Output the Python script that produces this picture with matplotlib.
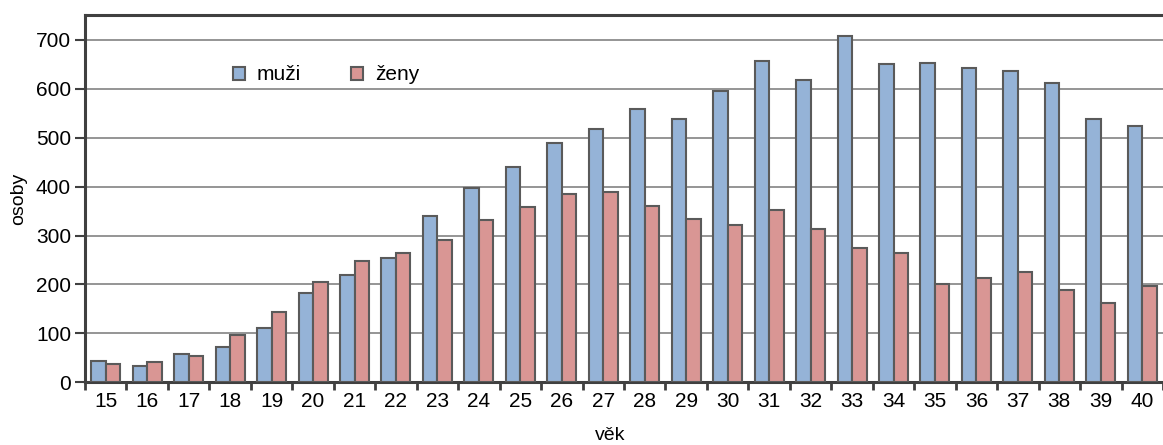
import matplotlib
matplotlib.use("Agg")
import matplotlib.pyplot as plt
import numpy as np
from matplotlib.patches import Patch

ages = [str(a) for a in range(15, 41)]
muzi = [43, 33, 57, 72, 110, 182, 220, 254, 340, 398, 439, 489, 517, 559, 539, 596,
        657, 617, 708, 650, 653, 642, 637, 611, 539, 523]
zeny = [38, 41, 53, 96, 144, 204, 248, 265, 290, 331, 359, 384, 389, 361, 333, 321,
        352, 313, 274, 264, 201, 213, 225, 188, 162, 197]
yticks = [0, 100, 200, 300, 400, 500, 600, 700]

plt.rcParams['font.family'] = ['Liberation Sans', 'DejaVu Sans']

W, H = 1163, 445
fig = plt.figure(figsize=(W / 100, H / 100), dpi=100)
ax = fig.add_axes([85 / W, 1 - 382.3 / H, (W - 85) / W, (382.3 - 15.3) / H])

blue = '#95B3D7'
red = '#D99694'
edge = '#5a5a5a'
x = np.arange(len(ages))
bw = 0.35
ax.bar(x - bw / 2, muzi, bw, color=blue, edgecolor=edge, linewidth=1.5, zorder=3, label='muži')
ax.bar(x + bw / 2, zeny, bw, color=red, edgecolor=edge, linewidth=1.5, zorder=3, label='ženy')

ax.set_xlim(-0.5, -0.5 + (W - 85) / 41.73)
ax.set_ylim(0, 750)
ax.set_yticks(yticks)
ax.yaxis.grid(True, color='#8c8c8c', linewidth=1.3, zorder=0)
ax.set_xticks(x)
ax.set_xticklabels(ages, fontsize=15)
ax.set_xticks(np.arange(-0.5, len(ages), 1), minor=True)
ax.tick_params(axis='x', which='major', length=0, pad=7)
ax.tick_params(axis='x', which='minor', length=6, width=2, color='#404040', direction='out')
ax.tick_params(axis='y', length=7, width=1.5, color='#404040', labelsize=15, pad=3)

for s in ['top', 'left', 'bottom']:
    ax.spines[s].set_color('#404040')
    ax.spines[s].set_linewidth(2.2)
ax.spines['right'].set_visible(False)

ax.set_ylabel('osoby', fontsize=14)
ax.yaxis.set_label_coords(-0.054, 0.5)
fig.text(610 / W, 1 - 436 / H, 'věk', fontsize=14, ha='center', va='center')

handles = [Patch(facecolor=blue, edgecolor=edge, linewidth=1.5),
           Patch(facecolor=red, edgecolor=edge, linewidth=1.5)]
leg = ax.legend(handles, ['muži', 'ženy'], ncol=2, frameon=False, fontsize=15,
                loc='center left', bbox_to_anchor=(214 / W, 1 - 75 / H),
                bbox_transform=fig.transFigure, handlelength=0.6, handleheight=0.6,
                handletextpad=0.55, columnspacing=2.4)

fig.savefig('out.png', dpi=100)
